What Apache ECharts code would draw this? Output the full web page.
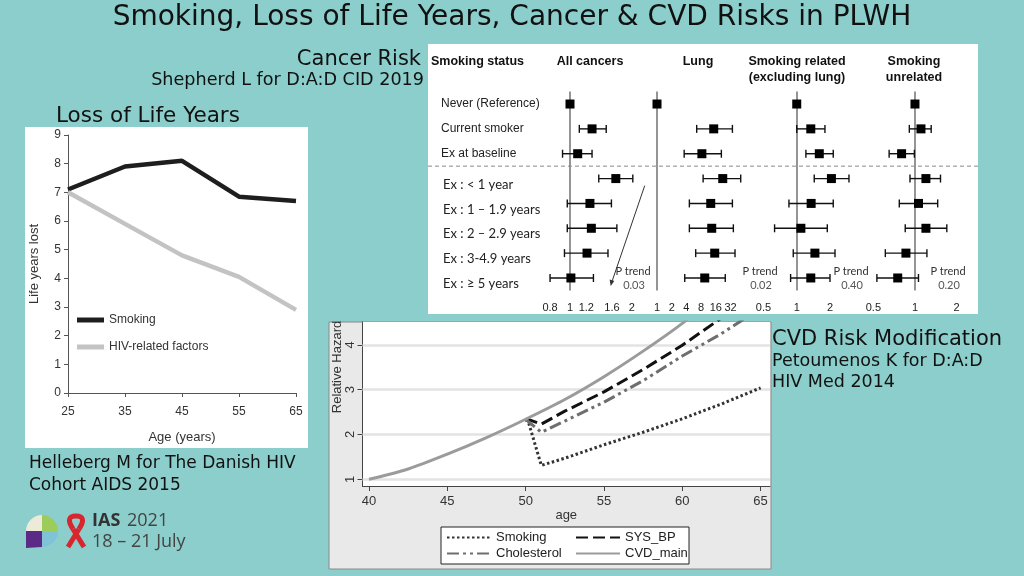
<!DOCTYPE html>
<html><head><meta charset="utf-8">
<script src="https://cdn.jsdelivr.net/npm/echarts@6/dist/echarts.min.js"></script>
<style>html,body{margin:0;padding:0;background:#8bcecb}#c{width:1024px;height:576px}</style>
</head><body><div id="c"></div>
<script>
// ---------- Loss of Life Years (Helleberg 2015) ----------
const lolAges = ['25', '35', '45', '55', '65'];
const lolSmoking = [7.1, 7.9, 8.1, 6.85, 6.7];
const lolHIV = [7.0, 5.9, 4.8, 4.05, 2.9];

// ---------- Cancer risk forest plot (Shepherd 2019) ----------
const fpRows = ['Never (Reference)', 'Current smoker', 'Ex at baseline', 'Ex : < 1 year',
  'Ex : 1 – 1.9 years', 'Ex : 2 – 2.9 years', 'Ex : 3-4.9 years', 'Ex : ≥ 5 years'];
// [HR, lower CI, upper CI]
const fpAllCancers = [[1, null, null], [1.28, 1.11, 1.50], [1.09, 0.92, 1.28], [1.67, 1.38, 2.02],
  [1.25, 0.97, 1.59], [1.27, 0.97, 1.69], [1.21, 0.94, 1.53], [1.01, 0.80, 1.30]];
const fpLung = [[1, null, null], [14.5, 6.5, 35], [8.3, 3.6, 20.8], [22.2, 8.8, 51.8],
  [12.6, 4.6, 35], [13.2, 4.6, 36.6], [15.2, 6.2, 39.6], [9.5, 3.7, 25]];
const fpSmokingRelated = [[1, null, null], [1.34, 1.0, 1.80], [1.60, 1.21, 2.14], [2.06, 1.44, 2.97],
  [1.35, 0.85, 2.14], [1.09, 0.63, 1.89], [1.46, 0.93, 2.22], [1.34, 0.88, 2.0]];
const fpSmokingUnrelated = [[1, null, null], [1.105, 0.91, 1.31], [0.80, 0.65, 0.99], [1.20, 0.92, 1.53],
  [1.06, 0.77, 1.46], [1.20, 0.85, 1.70], [0.86, 0.61, 1.22], [0.75, 0.53, 1.06]];
const fpTicksAll = [0.8, 1, 1.2, 1.6, 2];
const fpTicksLung = [1, 2, 4, 8, 16, 32];
const fpTicksRelated = [0.5, 1, 2];
const fpTicksUnrelated = [0.5, 1, 2];
const fpRangeAll = [0.699, 2.264];
const fpRangeLung = [0.624, 88.2];
const fpRangeRelated = [0.419, 3.66];
const fpRangeUnrelated = [0.4135, 2.38];
const fpPTrend = ['0.03', '0.02', '0.40', '0.20'];

// ---------- CVD risk modification (Petoumenos 2014) ----------
const cvdMain = [[40, 1.0], [42.5, 1.23], [45, 1.56], [47.5, 1.93], [50, 2.34], [52.5, 2.78], [55, 3.29], [57.5, 3.86], [60, 4.48], [62.5, 5.2]];
const cvdSysBP = [[50, 2.34], [50.2, 2.33], [51, 2.23], [52.5, 2.52], [55, 2.95], [57.5, 3.45], [60, 3.99], [62.5, 4.6], [65, 5.25]];
const cvdChol = [[50, 2.34], [50.3, 2.25], [51, 2.05], [52.5, 2.3], [55, 2.72], [57.5, 3.2], [60, 3.75], [62.5, 4.25], [65, 4.82]];
const cvdSmoking = [[50, 2.34], [50.2, 2.25], [51, 1.31], [52.5, 1.47], [55, 1.77], [57.5, 2.05], [60, 2.35], [62.5, 2.68], [65, 3.04]];
const cvdXTicks = [40, 45, 50, 55, 60, 65];
const cvdYTicks = [1, 2, 3, 4];

const NARROW = "'Liberation Sans Narrow','Arial Narrow','Liberation Sans',sans-serif";
const SANS = "'DejaVu Sans',Verdana,sans-serif";
const ARIAL = "'Liberation Sans',Arial,sans-serif";

const chart = echarts.init(document.getElementById('c'));

const fpPanels = [
  {data: fpAllCancers, ticks: fpTicksAll, range: fpRangeAll, left: 538, width: 105},
  {data: fpLung, ticks: fpTicksLung, range: fpRangeLung, left: 647, width: 105},
  {data: fpSmokingRelated, ticks: fpTicksRelated, range: fpRangeRelated, left: 755, width: 104},
  {data: fpSmokingUnrelated, ticks: fpTicksUnrelated, range: fpRangeUnrelated, left: 862, width: 105}
];

function errRender(params, api) {
  const y = api.value(2);
  const p1 = api.coord([api.value(0), y]);
  const p2 = api.coord([api.value(1), y]);
  const h = 4, st = {stroke: '#111', lineWidth: 1.4};
  return {type: 'group', children: [
    {type: 'line', shape: {x1: p1[0], y1: p1[1], x2: p2[0], y2: p2[1]}, style: st},
    {type: 'line', shape: {x1: p1[0], y1: p1[1] - h, x2: p1[0], y2: p1[1] + h}, style: st},
    {type: 'line', shape: {x1: p2[0], y1: p2[1] - h, x2: p2[0], y2: p2[1] + h}, style: st}
  ]};
}

const grids = [{left: 68, top: 135, width: 228, height: 258}];
const xAxes = [{
  gridIndex: 0, type: 'category', data: lolAges, boundaryGap: false,
  axisLine: {lineStyle: {color: '#555', width: 1}}, axisTick: {length: 4, lineStyle: {color: '#555'}},
  axisLabel: {color: '#333', fontFamily: NARROW, fontSize: 12, margin: 13},
  name: 'Age (years)', nameLocation: 'middle', nameGap: 38, nameTextStyle: {color: '#333', fontFamily: NARROW, fontSize: 13}
}];
const yAxes = [{
  gridIndex: 0, type: 'value', min: 0, max: 9, interval: 1,
  axisLine: {show: true, lineStyle: {color: '#555', width: 1}}, axisTick: {show: true, length: 4, lineStyle: {color: '#555'}},
  axisLabel: {color: '#333', fontFamily: NARROW, fontSize: 12, margin: 7}, splitLine: {show: false},
  name: 'Life years lost', nameLocation: 'middle', nameGap: 27, nameRotate: 90,
  nameTextStyle: {color: '#333', fontFamily: NARROW, fontSize: 13}
}];
const series = [
  {name: 'Smoking', type: 'line', xAxisIndex: 0, yAxisIndex: 0, data: lolSmoking, symbol: 'none',
    lineStyle: {color: '#1e1e1e', width: 4.5}, itemStyle: {color: '#1e1e1e'}},
  {name: 'HIV-related factors', type: 'line', xAxisIndex: 0, yAxisIndex: 0, data: lolHIV, symbol: 'none',
    lineStyle: {color: '#c3c3c3', width: 4.5}, itemStyle: {color: '#c3c3c3'}}
];

fpPanels.forEach((p, k) => {
  const gi = k + 1;
  grids.push({left: p.left, top: 91.6, width: p.width, height: 198.8});
  const ln = p.ticks.map(Math.log);
  xAxes.push({
    gridIndex: gi, type: 'value', min: Math.log(p.range[0]), max: Math.log(p.range[1]), offset: 6,
    axisLine: {lineStyle: {color: '#111', width: 2.5}}, axisTick: {show: false}, splitLine: {show: false},
    axisLabel: {customValues: ln, color: '#222', fontFamily: ARIAL, fontSize: 11, margin: 6,
      formatter: v => { const i = ln.findIndex(t => Math.abs(t - v) < 1e-6); return i >= 0 ? String(p.ticks[i]) : ''; }}
  });
  yAxes.push(k === 0 ? {
    gridIndex: gi, type: 'category', data: fpRows, inverse: true,
    axisLine: {show: false}, axisTick: {show: false}, splitLine: {show: false},
    axisLabel: {align: 'left', margin: 97,
      formatter: (v, i) => i < 3 ? '{n|' + v + '}' : '{e|' + v + '}',
      rich: {n: {fontFamily: NARROW, fontSize: 12, color: '#222'},
             e: {fontFamily: "Lato,sans-serif", fontSize: 13, color: '#222', padding: [12, 0, 0, 2]}}}
  } : {gridIndex: gi, type: 'category', data: fpRows, inverse: true, show: false});
  // reference line at HR = 1 (beneath the marks)
  series.push({
    type: 'scatter', xAxisIndex: gi, yAxisIndex: gi, data: [], z: 1, silent: true,
    markLine: {z: 1, silent: true, symbol: 'none', label: {show: false}, animation: false,
      emphasis: {disabled: true},
      lineStyle: {color: '#7a7a7a', width: 1.6, type: 'solid'}, data: [{xAxis: 0}]}
  });
  series.push({
    type: 'custom', xAxisIndex: gi, yAxisIndex: gi, renderItem: errRender, encode: {x: [0, 1], y: 2},
    data: p.data.map((d, i) => d[1] == null ? null : [Math.log(d[1]), Math.log(d[2]), i]).filter(d => d), z: 3
  });
  series.push({
    type: 'scatter', xAxisIndex: gi, yAxisIndex: gi, symbol: 'rect', symbolSize: 9,
    itemStyle: {color: '#000', opacity: 1}, data: p.data.map((d, i) => [Math.log(d[0]), i]), z: 4
  });
});

// CVD grid (index 5)
grids.push({left: 362.5, top: 322, width: 407.5, height: 164, show: true, backgroundColor: '#ffffff', borderWidth: 0});
xAxes.push({
  gridIndex: 5, type: 'value', min: 39.585, max: 65.6,
  axisLine: {lineStyle: {color: '#444', width: 1}},
  axisTick: {customValues: cvdXTicks, length: 5, lineStyle: {color: '#444'}},
  axisLabel: {customValues: cvdXTicks, color: '#333', fontFamily: ARIAL, fontSize: 13, margin: 9},
  splitLine: {show: false},
  name: 'age', nameLocation: 'middle', nameGap: 22, nameTextStyle: {color: '#333', fontFamily: ARIAL, fontSize: 13}
});
yAxes.push({
  gridIndex: 5, type: 'value', min: 0.85, max: 4.51,
  axisLine: {show: true, lineStyle: {color: '#444', width: 1}},
  axisTick: {show: true, customValues: cvdYTicks, length: 5, lineStyle: {color: '#444'}},
  axisLabel: {customValues: cvdYTicks, rotate: 90, color: '#333', fontFamily: ARIAL, fontSize: 13, margin: 6},
  splitLine: {show: false}
});
series.push({type: 'line', xAxisIndex: 5, yAxisIndex: 5, data: [], z: 1, silent: true,
  markLine: {z: 1, silent: true, symbol: 'none', label: {show: false}, animation: false, emphasis: {disabled: true},
    lineStyle: {color: '#e3e3e3', width: 2.5, type: 'solid'}, data: cvdYTicks.map(v => ({yAxis: v}))}});
const cvdCommon = {type: 'line', xAxisIndex: 5, yAxisIndex: 5, symbol: 'none', clip: true, z: 3};
series.push(Object.assign({name: 'Smoking ', data: cvdSmoking, lineStyle: {color: '#333', width: 3, type: [2.5, 2.5]}, itemStyle: {color: '#333'}}, cvdCommon));
series.push(Object.assign({name: 'SYS_BP', data: cvdSysBP, lineStyle: {color: '#111', width: 3, type: [12, 5]}, itemStyle: {color: '#111'}}, cvdCommon));
series.push(Object.assign({name: 'Cholesterol', data: cvdChol, lineStyle: {color: '#6e6e6e', width: 3, type: [12, 4, 3, 4, 3, 4]}, itemStyle: {color: '#6e6e6e'}}, cvdCommon));
series.push(Object.assign({name: 'CVD_main', data: cvdMain, smooth: 0.3, lineStyle: {color: '#9b9b9b', width: 3}, itemStyle: {color: '#9b9b9b'}}, cvdCommon));

function txt(text, x, y, font, opts) {
  return {type: 'text', z: 50, style: Object.assign({text, x, y, font, fill: '#111', textAlign: 'left', textVerticalAlign: 'middle'}, opts || {})};
}
const red = {stroke: '#d7262e', lineWidth: 5, fill: 'none'};

const graphic = [
  {type: 'rect', z: -10, shape: {x: 25, y: 127, width: 283, height: 321}, style: {fill: '#fff'}},
  {type: 'rect', z: -10, shape: {x: 428, y: 44, width: 550, height: 270}, style: {fill: '#fff'}},
  {type: 'rect', z: -10, shape: {x: 329, y: 322, width: 442, height: 247}, style: {fill: '#e9e9e9', stroke: '#8a8a8a', lineWidth: 1}},
  {type: 'rect', z: 5, shape: {x: 441, y: 527, width: 248, height: 37}, style: {fill: '#fff', stroke: '#222', lineWidth: 1}},
  // slide texts
  txt('Smoking, Loss of Life Years, Cancer & CVD Risks in PLWH', 512, 18, '28px ' + SANS, {textAlign: 'center'}),
  txt('Cancer Risk', 421, 60, '21px ' + SANS, {textAlign: 'right'}),
  txt('Shepherd L for D:A:D CID 2019', 424, 80, '17.6px ' + SANS, {textAlign: 'right'}),
  txt('Loss of Life Years', 56, 116, '21.5px ' + SANS),
  txt('Helleberg M for The Danish HIV', 29, 464, '17px ' + SANS),
  txt('Cohort AIDS 2015', 29, 486, '17px ' + SANS),
  txt('CVD Risk Modification', 772, 340, '21px ' + SANS),
  txt('Petoumenos K for D:A:D', 772, 361, '17.5px ' + SANS),
  txt('HIV Med 2014', 772, 382, '17.5px ' + SANS),
  // forest headers
  txt('Smoking status', 431, 62, 'bold 12.5px ' + NARROW),
  txt('All cancers', 590, 62, 'bold 12.5px ' + NARROW, {textAlign: 'center'}),
  txt('Lung', 698, 62, 'bold 12.5px ' + NARROW, {textAlign: 'center'}),
  txt('Smoking related', 797, 62, 'bold 12.5px ' + NARROW, {textAlign: 'center'}),
  txt('(excluding lung)', 797, 78, 'bold 12.5px ' + NARROW, {textAlign: 'center'}),
  txt('Smoking', 914, 62, 'bold 12.5px ' + NARROW, {textAlign: 'center'}),
  txt('unrelated', 914, 78, 'bold 12.5px ' + NARROW, {textAlign: 'center'}),
  // CVD y name
  {type: 'text', z: 50, x: 337, y: 367, rotation: Math.PI / 2,
    style: {text: 'Relative Hazard', x: 0, y: 0, font: '13px ' + ARIAL, fill: '#333', textAlign: 'center', textVerticalAlign: 'middle'}},
  // arrow in all cancers panel
  {type: 'line', z: 50, shape: {x1: 644.7, y1: 185.7, x2: 611.5, y2: 283}, style: {stroke: '#333', lineWidth: 1}},
  {type: 'polygon', z: 50, shape: {points: [[610.7, 286], [609.6, 279.5], [614.3, 281.1]]}, style: {fill: '#333'}},
  // IAS logo
  {type: 'sector', z: 50, shape: {cx: 42, cy: 531, r: 16, startAngle: Math.PI, endAngle: Math.PI * 1.5}, style: {fill: '#ecebd9'}},
  {type: 'sector', z: 50, shape: {cx: 42, cy: 531, r: 16, startAngle: Math.PI * 1.5, endAngle: Math.PI * 2}, style: {fill: '#9ccc5a'}},
  {type: 'sector', z: 50, shape: {cx: 42, cy: 531, r: 16, startAngle: Math.PI * 0.5, endAngle: Math.PI}, style: {fill: '#5a2a86'}},
  {type: 'sector', z: 50, shape: {cx: 42, cy: 531, r: 16, startAngle: 0, endAngle: Math.PI * 0.5}, style: {fill: '#7fc3d6'}},
  {type: 'polygon', z: 50, shape: {points: [[26, 531], [42, 531], [42, 547], [26, 548]]}, style: {fill: '#5a2a86'}},
  {type: 'line', z: 50, shape: {x1: 68, y1: 547, x2: 79, y2: 529}, style: red},
  {type: 'line', z: 50, shape: {x1: 73, y1: 529, x2: 84, y2: 547}, style: red},
  {type: 'bezierCurve', z: 50, shape: {x1: 79, y1: 529, cpx1: 85, cpy1: 520, cpx2: 83, cpy2: 516, x2: 76, y2: 516}, style: red},
  {type: 'bezierCurve', z: 50, shape: {x1: 76, y1: 516, cpx1: 69, cpy1: 516, cpx2: 67, cpy2: 520, x2: 73, y2: 529}, style: red},
  txt('IAS', 92, 521, 'bold 18px "Open Sans",sans-serif', {fill: '#333'}),
  txt('2021', 127, 521, '18px "Open Sans",sans-serif', {fill: '#444'}),
  txt('18 – 21 July', 92, 542, '18px "Open Sans",sans-serif', {fill: '#444'})
];
fpPTrend.forEach((p, k) => {
  const cx = [633, 760, 851, 948][k];
  graphic.push(txt('P trend', cx, 271, '11px Lato,sans-serif', {textAlign: 'center', fill: '#333'}));
  graphic.push(txt(p, cx + 1, 285, '11px Lato,sans-serif', {textAlign: 'center', fill: '#555'}));
});

const option = {
  animation: false,
  grid: grids, xAxis: xAxes, yAxis: yAxes, series: series,
  legend: [
    {data: ['Smoking', 'HIV-related factors'], left: 77, top: 314, orient: 'vertical', itemGap: 15, padding: 0,
      itemWidth: 27, itemHeight: 5, icon: 'rect', selectedMode: false,
      textStyle: {color: '#333', fontFamily: NARROW, fontSize: 12}},
    {data: ['Smoking ', 'Cholesterol'], left: 446, top: 531, orient: 'vertical', itemGap: 3, padding: 0,
      itemWidth: 44, itemHeight: 14, selectedMode: false, z: 10, itemStyle: {opacity: 0},
      textStyle: {color: '#222', fontFamily: ARIAL, fontSize: 13}},
    {data: ['SYS_BP', 'CVD_main'], left: 575, top: 531, orient: 'vertical', itemGap: 3, padding: 0,
      itemWidth: 44, itemHeight: 14, selectedMode: false, z: 10, itemStyle: {opacity: 0},
      textStyle: {color: '#222', fontFamily: ARIAL, fontSize: 13}}
  ],
  graphic: graphic
};
chart.setOption(option);
// dashed separator between the baseline rows and the "Ex" rows
const ya = chart.convertToPixel({yAxisIndex: 1}, 2);
const yb = chart.convertToPixel({yAxisIndex: 1}, 3);
const ym = (ya + yb) / 2;
graphic.push({type: 'line', z: 50, shape: {x1: 428, y1: ym, x2: 978, y2: ym}, style: {stroke: '#8a8a8a', lineWidth: 1, lineDash: [4, 3]}});
option.graphic = graphic;
chart.setOption(option, true);
</script></body></html>
